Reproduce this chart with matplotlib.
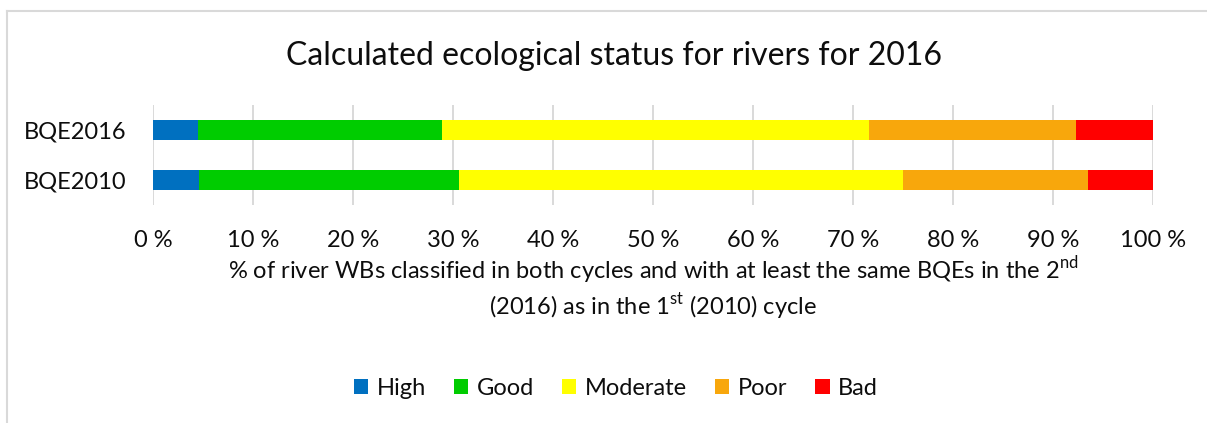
import matplotlib
matplotlib.use('Agg')
import matplotlib.pyplot as plt
from matplotlib.patches import Patch
from matplotlib.lines import Line2D

plt.rcParams['font.family'] = ['Lato', 'DejaVu Sans']
plt.rcParams['mathtext.fontset'] = 'custom'
plt.rcParams['mathtext.rm'] = 'Lato'

categories = ['BQE2010', 'BQE2016']
classes = ['High', 'Good', 'Moderate', 'Poor', 'Bad']
colors = ['#0070C0', '#00CC00', '#FFFF00', '#F8A70C', '#FF0000']
high = [4.6, 4.5]
good = [26.0, 24.4]
moderate = [44.4, 42.7]
poor = [18.5, 20.7]
bad = [6.5, 7.7]
series = [high, good, moderate, poor, bad]
xticks = list(range(0, 101, 10))
xticklabels = [f'{t} %' for t in xticks]

W, H = 1207, 423
fig = plt.figure(figsize=(W / 100, H / 100), dpi=100)
ax = fig.add_axes([153 / W, 1 - 205 / H, 1000 / W, 100 / H])

left = [0.0, 0.0]
for name, vals, c in zip(classes, series, colors):
    ax.barh(categories, vals, left=left, height=0.4, color=c, label=name, zorder=3)
    left = [l + v for l, v in zip(left, vals)]

ax.set_xlim(0, 100)
ax.set_ylim(-0.5, 1.5)
ax.set_xticks(xticks)
ax.set_xticklabels(xticklabels)
ax.tick_params(axis='x', length=0, pad=18, labelsize=17, colors='#0d0d0d')
ax.tick_params(axis='y', length=0, pad=19, labelsize=17, colors='#0d0d0d')
ax.grid(axis='x', color='#D9D9D9', lw=1.4, zorder=0)
for s in ax.spines.values():
    s.set_visible(False)

fig.text(614 / W, 1 - 56 / H, 'Calculated ecological status for rivers for 2016',
         ha='center', va='center', fontsize=23, color='#0d0d0d')

fig.text(653 / W, 1 - 288 / H,
         '% of river WBs classified in both cycles and with at least the same BQEs in the 2$^{\\mathrm{nd}}$\n'
         '(2016) as in the 1$^{\\mathrm{st}}$ (2010) cycle',
         ha='center', va='center', fontsize=17, color='#0d0d0d', linespacing=1.22)

handles = [Patch(facecolor=c, label=n) for n, c in zip(classes, colors)]
fig.legend(handles=handles, loc='center', bbox_to_anchor=(616 / W, 1 - 388 / H),
           ncol=5, frameon=False, fontsize=17, handlelength=0.6, handleheight=0.6,
           handletextpad=0.35, columnspacing=1.2, labelcolor='#0d0d0d')

# chart border (top and left visible in the crop)
fig.add_artist(Line2D([7 / W, 1.0], [1 - 11 / H, 1 - 11 / H], color='#D9D9D9', lw=1.5))
fig.add_artist(Line2D([7 / W, 7 / W], [0, 1 - 11 / H], color='#D9D9D9', lw=1.5))

fig.savefig('out.png', dpi=100)
